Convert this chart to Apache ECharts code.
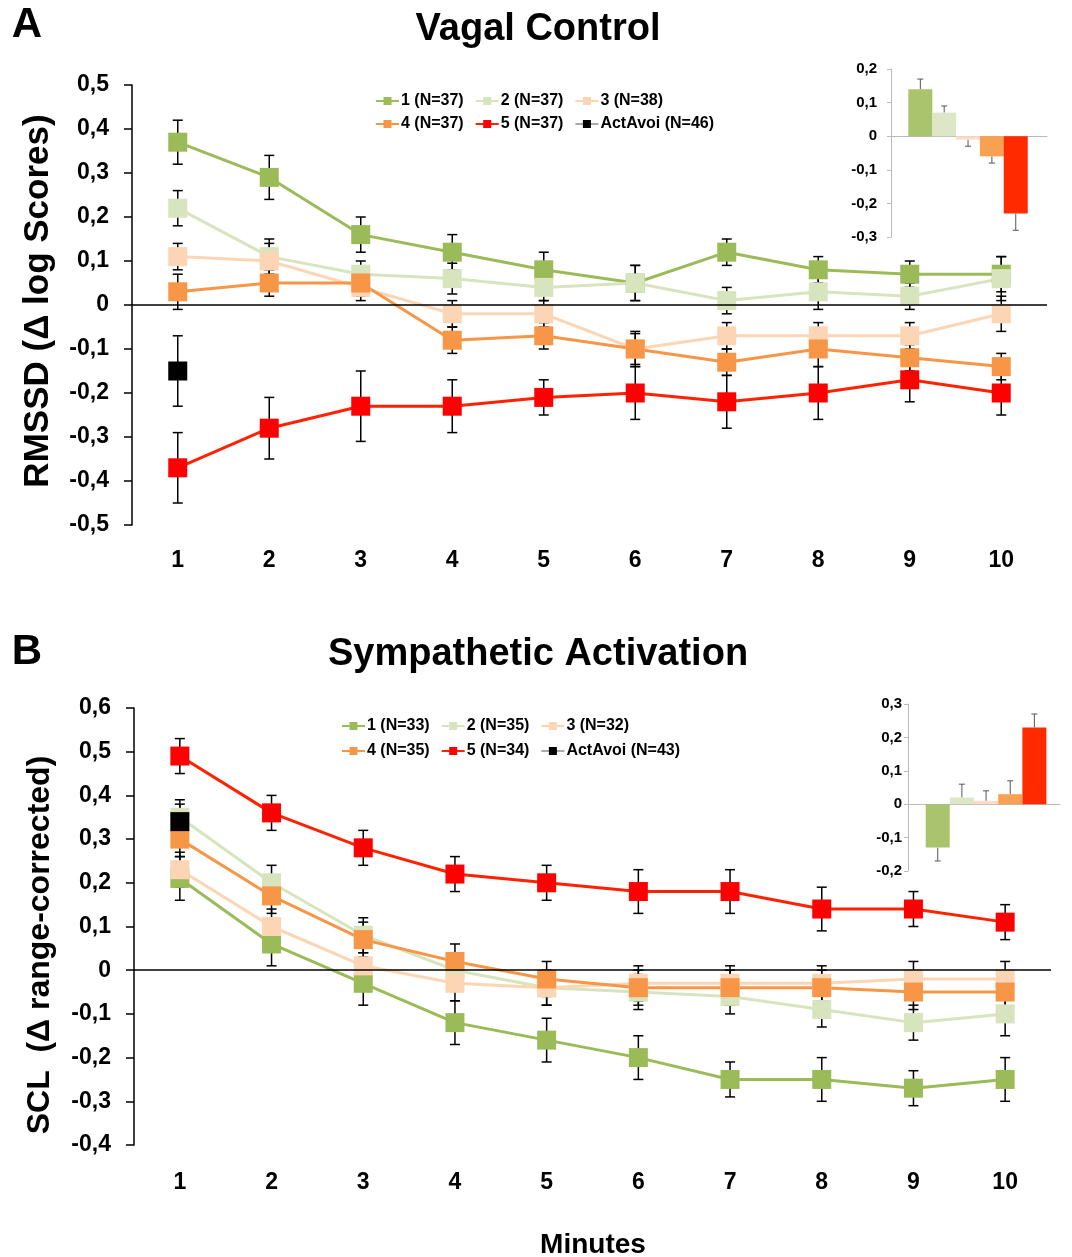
<!DOCTYPE html>
<html><head><meta charset="utf-8">
<script src="https://cdn.jsdelivr.net/npm/echarts@6/dist/echarts.min.js"></script>
<style>html,body{margin:0;padding:0;background:#fff}#c{width:1072px;height:1257px}</style>
</head><body><div id="c"></div><script>
// ---------- data ----------
const minutes = ['1','2','3','4','5','6','7','8','9','10'];
const namesA = ['1 (N=37)','2 (N=37)','3 (N=38)','4 (N=37)','5 (N=37)','ActAvoi (N=46)'];
const namesB = ['1 (N=33)','2 (N=35)','3 (N=32)','4 (N=35)','5 (N=34)','ActAvoi (N=43)'];

// Panel A – RMSSD (Δ log scores)
const rmssd1 = [0.37,0.29,0.16,0.12,0.08,0.05,0.12,0.08,0.07,0.07];
const rmssd1Err = [0.05,0.05,0.04,0.04,0.04,0.04,0.03,0.03,0.03,0.04];
const rmssd2 = [0.22,0.11,0.07,0.06,0.04,0.05,0.01,0.03,0.02,0.06];
const rmssd2Err = [0.04,0.04,0.03,0.035,0.03,0.04,0.03,0.04,0.03,0.05];
const rmssd3 = [0.11,0.10,0.04,-0.02,-0.02,-0.10,-0.07,-0.07,-0.07,-0.02];
const rmssd3Err = [0.03,0.04,0.03,0.03,0.03,0.04,0.03,0.03,0.03,0.04];
const rmssd4 = [0.03,0.05,0.05,-0.08,-0.07,-0.10,-0.13,-0.10,-0.12,-0.14];
const rmssd4Err = [0.04,0.03,0.03,0.03,0.03,0.035,0.03,0.04,0.03,0.03];
const rmssd5 = [-0.37,-0.28,-0.23,-0.23,-0.21,-0.20,-0.22,-0.20,-0.17,-0.20];
const rmssd5Err = [0.08,0.07,0.08,0.06,0.04,0.06,0.06,0.06,0.05,0.05];
const rmssdAct = [-0.15];
const rmssdActErr = [0.08];

// Panel B – SCL (Δ range-corrected)
const scl1 = [0.21,0.06,-0.03,-0.12,-0.16,-0.20,-0.25,-0.25,-0.27,-0.25];
const scl1Err = [0.05,0.05,0.05,0.05,0.05,0.05,0.04,0.05,0.04,0.05];
const scl2 = [0.35,0.20,0.08,0.00,-0.04,-0.05,-0.06,-0.09,-0.12,-0.10];
const scl2Err = [0.04,0.04,0.04,0.04,0.04,0.04,0.04,0.04,0.04,0.05];
const scl3 = [0.23,0.10,0.01,-0.03,-0.04,-0.03,-0.03,-0.03,-0.02,-0.02];
const scl3Err = [0.04,0.04,0.03,0.04,0.04,0.04,0.04,0.04,0.04,0.04];
const scl4 = [0.30,0.17,0.07,0.02,-0.02,-0.04,-0.04,-0.04,-0.05,-0.05];
const scl4Err = [0.04,0.04,0.04,0.04,0.04,0.04,0.04,0.04,0.04,0.04];
const scl5 = [0.49,0.36,0.28,0.22,0.20,0.18,0.18,0.14,0.14,0.11];
const scl5Err = [0.04,0.04,0.04,0.04,0.04,0.05,0.05,0.05,0.04,0.04];
const sclAct = [0.34];
const sclActErr = [0.04];

// Insets (overall means per group)
const rmssdInset = [0.14,0.07,-0.01,-0.06,-0.23];
const rmssdInsetErr = [0.03,0.02,0.02,0.02,0.05];
const sclInset = [-0.13,0.02,0.01,0.03,0.23];
const sclInsetErr = [0.04,0.04,0.03,0.04,0.04];

// ---------- styling ----------
const FONT = 'Liberation Sans, Arial, sans-serif';
const lineColors = ['#9BBB59','#D7E4BD','#FCD5B5','#F79646','#FF2200','#AAAAAA'];
const markerColors = ['#9BBB59','#D7E4BD','#FCD5B5','#F79646','#FF0000','#000000'];
const insetColors = ['#A9C46C','#DDE7C8','#FCDCC4','#F8A152','#FF2A00'];
const fmt = v => Math.abs(v) < 1e-9 ? '0' : v.toFixed(1).replace('.', ',');

function errRender(capHalf, color, width, oneSided) {
  return function (params, api) {
    const x = api.value(0), y = api.value(1), e = api.value(2);
    let a = y + e, b = y - e;
    if (oneSided) { if (y >= 0) b = y; else a = y; }
    const p1 = api.coord([x, a]), p2 = api.coord([x, b]);
    const style = {stroke: color, lineWidth: width, fill: null};
    const ch = [{type:'line', shape:{x1:p1[0], y1:p1[1], x2:p2[0], y2:p2[1]}, style}];
    if (!oneSided || y >= 0) ch.push({type:'line', shape:{x1:p1[0]-capHalf, y1:p1[1], x2:p1[0]+capHalf, y2:p1[1]}, style});
    if (!oneSided || y < 0) ch.push({type:'line', shape:{x1:p2[0]-capHalf, y1:p2[1], x2:p2[0]+capHalf, y2:p2[1]}, style});
    return {type:'group', children: ch};
  };
}

function mainX(gi, margin) {
  return {type:'category', gridIndex:gi, data:minutes, boundaryGap:true,
    axisLine:{show:false}, axisTick:{show:false}, splitLine:{show:false},
    axisLabel:{fontFamily:FONT, fontSize:23, fontWeight:'bold', color:'#000', margin}};
}
function mainY(gi, min, max) {
  return {type:'value', gridIndex:gi, min, max, interval:0.1,
    axisLine:{show:true, lineStyle:{color:'#000', width:1.5}},
    axisTick:{show:true, length:8, lineStyle:{color:'#000', width:1.5}},
    splitLine:{show:false},
    axisLabel:{formatter:fmt, fontFamily:FONT, fontSize:23, fontWeight:'bold', color:'#000', margin:23}};
}
function insetX(gi, min, max) {
  return {type:'value', gridIndex:gi, min, max,
    axisLine:{show:true, onZero:true, lineStyle:{color:'#BBBBBB', width:1}},
    axisTick:{show:false}, axisLabel:{show:false}, splitLine:{show:false}};
}
function insetY(gi, min, max, margin) {
  return {type:'value', gridIndex:gi, min, max, interval:0.1,
    axisLine:{show:true, onZero:false, lineStyle:{color:'#BBBBBB', width:1}},
    axisTick:{show:true, length:4, lineStyle:{color:'#BBBBBB'}},
    splitLine:{show:false},
    axisLabel:{formatter:fmt, fontFamily:FONT, fontSize:15, fontWeight:'bold', color:'#000', margin}};
}

function panelSeries(gi, names, vals, errs) {
  const out = [{type:'line', xAxisIndex:gi, yAxisIndex:gi, data:[], silent:true,
    markLine:{silent:true, symbol:['none','none'], label:{show:false},
      lineStyle:{color:'#000', width:1.5, type:'solid'}, data:[{yAxis:0}]}}];
  for (let k = 0; k < names.length; k++) {
    out.push({type:'custom', name:'err ' + names[k], xAxisIndex:gi, yAxisIndex:gi, silent:true,
      renderItem: errRender(5, '#000', 1.5, false),
      encode:{x:0, y:1},
      data: vals[k].map((v, i) => [i, v, errs[k][i]])});
    out.push({type:'line', name:names[k], xAxisIndex:gi, yAxisIndex:gi, silent:true,
      data: vals[k], symbol:'rect', symbolSize:19,
      lineStyle:{color:lineColors[k], width:3},
      itemStyle:{color:markerColors[k]}});
  }
  return out;
}
function insetSeries(gi, vals, errs) {
  return [
    {type:'bar', xAxisIndex:gi, yAxisIndex:gi, barWidth:24, silent:true,
      data: vals.map((v, i) => ({value:[i + 1, v], itemStyle:{color:insetColors[i]}}))},
    {type:'custom', xAxisIndex:gi, yAxisIndex:gi, silent:true,
      renderItem: errRender(3, '#555', 1, true), encode:{x:0, y:1},
      data: vals.map((v, i) => [i + 1, v, errs[i]])}
  ];
}

const legendCommon = {itemWidth:23, itemHeight:10, itemGap:11, padding:0, selectedMode:false,
  textStyle:{fontFamily:FONT, fontWeight:'bold', fontSize:16, color:'#000', padding:[0,0,0,-3]}};

const txt = (text, x, y, size, rot) => ({type:'text', x, y, rotation: rot || 0,
  style:{text, font:'bold ' + size + 'px ' + FONT, fill:'#000', textAlign:'center', textVerticalAlign:'middle'}});

const chart = echarts.init(document.getElementById('c'));
chart.setOption({
  animation:false,
  backgroundColor:'#fff',
  grid:[
    {left:132, top:85, width:915, height:440},
    {left:891, top:69, width:156, height:168},
    {left:134, top:708, width:917, height:437},
    {left:908, top:704, width:152, height:167}
  ],
  xAxis:[mainX(0, 24), insetX(1, -0.23, 6.31), mainX(2, 26), insetX(3, -0.23, 6.06)],
  yAxis:[mainY(0, -0.5, 0.5), insetY(1, -0.3, 0.2, 14), mainY(2, -0.4, 0.6), insetY(3, -0.2, 0.3, 6)],
  legend:[
    Object.assign({data:namesA.slice(0,3), left:375, top:93}, legendCommon),
    Object.assign({data:namesA.slice(3), left:375, top:116}, legendCommon),
    Object.assign({data:namesB.slice(0,3), left:341, top:718}, legendCommon),
    Object.assign({data:namesB.slice(3), left:341, top:743}, legendCommon)
  ],
  graphic:[
    txt('A', 27, 25, 42),
    txt('Vagal Control', 538, 30, 38),
    txt('B', 27, 652, 42),
    txt('Sympathetic Activation', 538, 655, 38),
    txt('RMSSD (Δ log Scores)', 38, 301, 35, Math.PI / 2),
    txt('SCL  (Δ range-corrected)', 40, 945, 32, Math.PI / 2),
    txt('Minutes', 593, 1245, 28)
  ],
  series:[].concat(
    panelSeries(0, namesA, [rmssd1, rmssd2, rmssd3, rmssd4, rmssd5, rmssdAct],
      [rmssd1Err, rmssd2Err, rmssd3Err, rmssd4Err, rmssd5Err, rmssdActErr]),
    insetSeries(1, rmssdInset, rmssdInsetErr),
    panelSeries(2, namesB, [scl1, scl2, scl3, scl4, scl5, sclAct],
      [scl1Err, scl2Err, scl3Err, scl4Err, scl5Err, sclActErr]),
    insetSeries(3, sclInset, sclInsetErr)
  )
});
</script></body></html>
